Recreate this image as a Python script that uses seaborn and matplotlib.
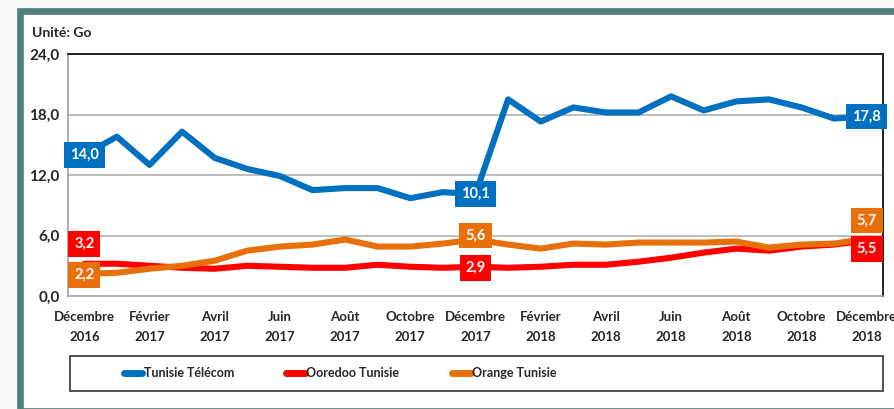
import pandas as pd
import matplotlib.pyplot as plt
import matplotlib.patches as mpatches
from matplotlib.lines import Line2D
import seaborn as sns
import numpy as np

# data (Go per month, Dec 2016 -> Dec 2018)
months = ['Janvier', 'Février', 'Mars', 'Avril', 'Mai', 'Juin', 'Juillet',
          'Août', 'Septembre', 'Octobre', 'Novembre', 'Décembre']
years = [2016] + [2017] * 12 + [2018] * 12
month_idx = [11] + list(range(12)) + list(range(12))
tunisie_telecom = [14.0, 15.8, 13.0, 16.3, 13.7, 12.6, 11.9, 10.5, 10.7, 10.7, 9.7, 10.3, 10.1,
                   19.5, 17.3, 18.7, 18.2, 18.2, 19.8, 18.4, 19.3, 19.5, 18.7, 17.6, 17.8]
ooredoo = [3.2, 3.2, 3.0, 2.8, 2.7, 3.0, 2.9, 2.8, 2.8, 3.1, 2.9, 2.8, 2.9,
           2.8, 2.9, 3.1, 3.1, 3.4, 3.8, 4.3, 4.7, 4.5, 4.9, 5.1, 5.5]
orange = [2.2, 2.3, 2.7, 3.0, 3.5, 4.5, 4.9, 5.1, 5.6, 4.9, 4.9, 5.2, 5.6,
          5.1, 4.7, 5.2, 5.1, 5.3, 5.3, 5.3, 5.4, 4.8, 5.1, 5.2, 5.7]
series_names = ['Tunisie Télécom', 'Ooredoo Tunisie', 'Orange Tunisie']
colors = ['#0070c0', '#ff0000', '#e8700a']
yticks = [0, 6, 12, 18, 24]

FONT = ['Lato', 'DejaVu Sans']
sns.set_style('white')
plt.rcParams['font.family'] = FONT

n = len(tunisie_telecom)
df = pd.DataFrame({
    'pos': list(range(n)) * 3,
    'value': tunisie_telecom + ooredoo + orange,
    'serie': [series_names[0]] * n + [series_names[1]] * n + [series_names[2]] * n,
})

fig = plt.figure(figsize=(8.95, 4.09), dpi=100)
fig.patch.set_facecolor('#f9f7f2')
W, H = 895, 409

# teal frame around the chart
fig.patches.append(mpatches.Rectangle((20 / W, -2 / H), 900 / W, (409 - 8.5) / H,
                                      transform=fig.transFigure, facecolor='white',
                                      edgecolor='#4e7f79', linewidth=4.8, zorder=-2))

ax = fig.add_axes([68 / W, (H - 296) / H, 815 / W, 242 / H])
ax.set_facecolor('none')
sns.lineplot(data=df, x='pos', y='value', hue='serie', palette=colors,
             hue_order=series_names, linewidth=4.4, legend=False, ax=ax,
             zorder=3)

ax.set_xlim(-0.5, n - 0.5)
ax.set_ylim(0, 24)
ax.set_yticks(yticks)
ax.set_yticklabels([f'{v:.1f}'.replace('.', ',') for v in yticks],
                   fontsize=11, fontweight='bold')
for v in yticks[1:-1]:
    ax.axhline(v, color='#ababab', lw=1.1, zorder=1)

# category boundaries as ticks, labels every other month
ax.set_xticks(np.arange(-0.5, n, 1))
ax.set_xticklabels([])
label_pos = list(range(0, n, 2))
ax.set_xticks(label_pos, minor=True)
ax.set_xticklabels([f'{months[month_idx[i]]}\n{years[i]}' for i in label_pos],
                   minor=True, fontsize=9.5, fontweight='bold', linespacing=1.75)
ax.tick_params(axis='x', which='major', length=5, color='#9a9a9a', width=1)
ax.tick_params(axis='x', which='minor', length=0, pad=11)
ax.tick_params(axis='y', length=4, color='#9a9a9a', pad=2)
ax.set_xlabel('')
ax.set_ylabel('')

for s in ['left', 'bottom']:
    ax.spines[s].set_color('#9a9a9a')
    ax.spines[s].set_linewidth(1.1)
for s in ['top', 'right']:
    ax.spines[s].set_color('#222222')
    ax.spines[s].set_linewidth(1.4)

fig.text(32 / W, 1 - 33 / H, 'Unité: Go', fontsize=10, fontweight='bold',
         va='center', ha='left')

# value labels: (serie, index, vertical offset in points)
labels = [(0, 0, 0), (0, 12, 0), (0, 24, 0),
          (1, 0, 14), (1, 12, -1), (1, 24, -6),
          (2, 0, -1), (2, 12, 3), (2, 24, 13)]
values = [tunisie_telecom, ooredoo, orange]
for s, i, dy in labels:
    v = values[s][i]
    ax.annotate(f'{v:.1f}'.replace('.', ','), (i, v), xytext=(0, dy),
                textcoords='offset points', ha='center', va='center',
                color='white', fontsize=10.5, fontweight='bold', zorder=5,
                bbox=dict(boxstyle='square,pad=0.4', fc=colors[s], ec='none'))

# legend box
fig.patches.append(mpatches.Rectangle((70 / W, (H - 391) / H), 813 / W, 35 / H,
                                      transform=fig.transFigure, facecolor='white',
                                      edgecolor='#333333', linewidth=1.2, zorder=-1))
handles = [Line2D([0], [0], color=c, lw=5, solid_capstyle='round') for c in colors]
fig.legend(handles, series_names, loc='center', bbox_to_anchor=(340 / W, 1 - 373 / H),
           ncol=3, frameon=False, handlelength=1.5, handletextpad=0.1,
           columnspacing=4.2, prop={'family': FONT, 'weight': 'bold', 'size': 9})

plt.savefig('out.png', dpi=100)
